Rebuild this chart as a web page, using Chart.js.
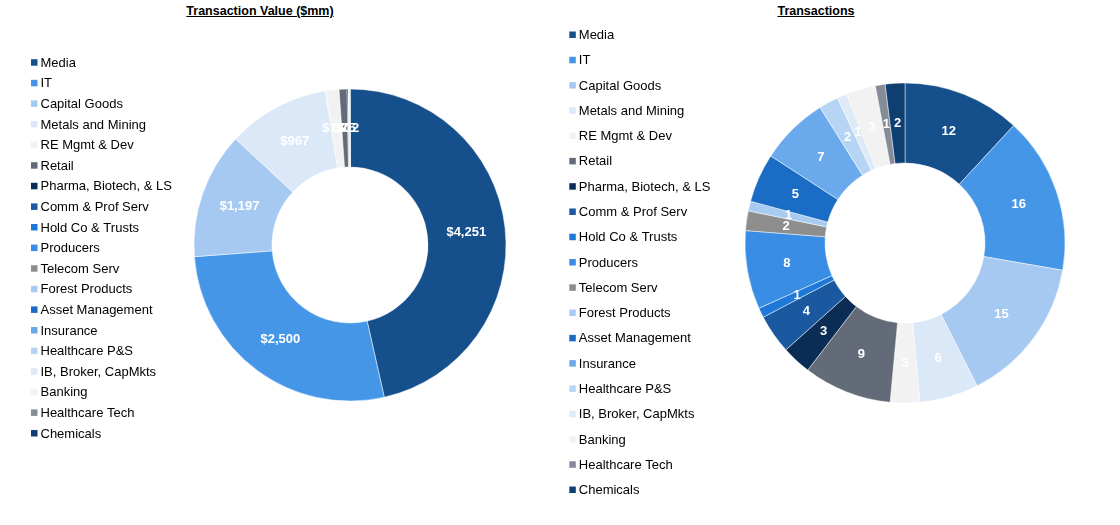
<!DOCTYPE html>
<html>
<head>
<meta charset="utf-8">
<script src="https://cdn.jsdelivr.net/npm/chart.js@4.4.1/dist/chart.umd.min.js"></script>
<style>
  body { margin: 0; background: #fff; width: 1120px; height: 525px; overflow: hidden; position: relative; }
  .title { position: absolute; top: 4px; font: bold 12.5px "Liberation Sans", Arial, sans-serif; text-decoration: underline; color: #000; transform: translateX(-50%); white-space: nowrap; }
  canvas { position: absolute; top: 0; }
</style>
</head>
<body>
<div class="title" style="left:260px">Transaction Value ($mm)</div>
<div class="title" style="left:816px">Transactions</div>
<canvas id="valueChart" width="560" height="525" style="left:0"></canvas>
<canvas id="countChart" width="575" height="525" style="left:545px"></canvas>
<script>
const sectors = ['Media', 'IT', 'Capital Goods', 'Metals and Mining', 'RE Mgmt & Dev', 'Retail',
  'Pharma, Biotech, & LS', 'Comm & Prof Serv', 'Hold Co & Trusts', 'Producers', 'Telecom Serv',
  'Forest Products', 'Asset Management', 'Insurance', 'Healthcare P&S', 'IB, Broker, CapMkts',
  'Banking', 'Healthcare Tech', 'Chemicals'];

// transaction value, $mm (small slices)
const txValue = [4251, 2500, 1197, 967, 130, 75, 12, 3, 2, 1, 1, 1, 1, 1, 1, 1, 1, 1, 1];

// number of transactions
const txCount = [12, 16, 15, 6, 3, 9, 3, 4, 1, 8, 2, 1, 5, 7, 2, 1, 3, 1, 2];

const sectorColors = ['#16508C', '#4596E6', '#A5C9F1', '#DAE8F8', '#F2F2F2', '#646B78',
  '#0B2D55', '#1A58A0', '#1E78D8', '#3A8DE5', '#8E8E8E', '#A8CBF2', '#1B6CC4', '#6AAAEC',
  '#B6D5F5', '#DEEAF8', '#F2F2F2', '#858C97', '#0F3E70'];

const FONT = '"Liberation Sans", Arial, sans-serif';

// white value labels in the middle of each slice
function sliceLabels(fmt, minValue) {
  return {
    id: 'sliceLabels',
    afterDatasetsDraw(chart) {
      const ctx = chart.ctx;
      const meta = chart.getDatasetMeta(0);
      const values = chart.data.datasets[0].data;
      ctx.save();
      ctx.font = 'bold 13px ' + FONT;
      ctx.fillStyle = '#fff';
      ctx.textAlign = 'center';
      ctx.textBaseline = 'middle';
      meta.data.forEach((arc, i) => {
        if (values[i] < minValue) return;
        const p = arc.tooltipPosition();
        ctx.fillText(fmt(values[i]), p.x, p.y);
      });
      ctx.restore();
    }
  };
}

// Excel-style legend column on the left, built from the chart's labels and colours
function sideLegend(boxX, y0, step) {
  return {
    id: 'sideLegend',
    afterDraw(chart) {
      const ctx = chart.ctx;
      const colors = chart.data.datasets[0].backgroundColor;
      ctx.save();
      ctx.font = '13px ' + FONT;
      ctx.fillStyle = '#000';
      ctx.textBaseline = 'middle';
      chart.data.labels.forEach((label, i) => {
        const y = y0 + i * step;
        ctx.fillStyle = colors[i];
        ctx.fillRect(boxX, y - 3.5, 6.5, 6.5);
        ctx.fillStyle = '#000';
        ctx.fillText(label, boxX + 9.5, y + 0.5);
      });
      ctx.restore();
    }
  };
}

function donut(id, values, radius, padding, fmt, minValue, legend) {
  return new Chart(document.getElementById(id), {
    type: 'doughnut',
    data: {
      labels: sectors,
      datasets: [{
        data: values,
        backgroundColor: sectorColors,
        borderColor: 'rgba(255,255,255,0.6)',
        borderWidth: 0.8
      }]
    },
    options: {
      responsive: false,
      animation: false,
      radius: radius,
      cutout: '50%',
      layout: { padding: padding },
      plugins: {
        tooltip: { enabled: false },
        legend: { display: false }
      }
    },
    plugins: [sliceLabels(fmt, minValue), legend]
  });
}

donut('valueChart', txValue, 156, { left: 190, right: 50, top: 85, bottom: 120 },
  v => '$' + v.toLocaleString('en-US'), 10, sideLegend(31, 62.7, 20.6));
donut('countChart', txCount, 160, { left: 190, right: 45, top: 80, bottom: 119 },
  v => String(v), 0, sideLegend(24.3, 35, 25.28));
</script>
</body>
</html>
